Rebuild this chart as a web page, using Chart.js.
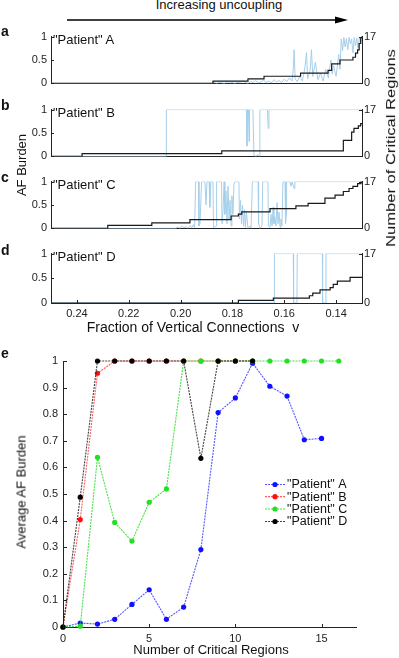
<!doctype html>
<html lang="en">
<head>
<meta charset="utf-8">
<script src="https://cdn.jsdelivr.net/npm/chart.js@4/dist/chart.umd.min.js"></script>
<style>
  html, body { margin: 0; padding: 0; background: #fff; }
  body { width: 399px; height: 658px; position: relative; overflow: hidden;
         font-family: "Liberation Sans", Arial, sans-serif; color: #111; }
  canvas { position: absolute; left: 0; }
  .t { position: absolute; white-space: nowrap; transform: translate(-50%, -50%); line-height: 1.15; z-index: 5; }
  .l { position: absolute; white-space: nowrap; transform: translateY(-50%); line-height: 1.15; z-index: 5; }
  .lab { font-weight: bold; font-size: 14px; }
</style>
</head>
<body>
<svg style="position:absolute;left:0;top:0" width="399" height="30">
  <line x1="67" y1="20" x2="337" y2="20" stroke="#000" stroke-width="1.3"/>
  <polygon points="335,16.5 348,20 335,23.5" fill="#000"/>
</svg>
<div class="t" style="left:219px;top:4.5px;font-size:13px">Increasing uncoupling</div>

<canvas id="ca" width="399" height="68" style="top:26px"></canvas>
<canvas id="cb" width="399" height="68" style="top:99px"></canvas>
<canvas id="cc" width="399" height="68" style="top:171px"></canvas>
<canvas id="cd" width="399" height="92" style="top:243px"></canvas>
<canvas id="ce" width="399" height="313" style="top:345px"></canvas>

<div class="l lab" style="left:1px;top:31px">a</div>
<div class="l lab" style="left:1px;top:105px">b</div>
<div class="l lab" style="left:1px;top:177px">c</div>
<div class="l lab" style="left:1px;top:250px">d</div>
<div class="l lab" style="left:1px;top:353px">e</div>

<div class="l" style="left:53px;top:39.5px;font-size:13px">"Patient" A</div>
<div class="l" style="left:53px;top:112.5px;font-size:13px">"Patient" B</div>
<div class="l" style="left:53px;top:184.5px;font-size:13px">"Patient" C</div>
<div class="l" style="left:53px;top:256.5px;font-size:13px">"Patient" D</div>

<div class="t" style="left:22px;top:165px;font-size:13px;transform:translate(-50%,-50%) rotate(-90deg)">AF Burden</div>
<div class="t" style="left:392px;top:148px;font-size:12px;transform:translate(-50%,-50%) rotate(-90deg) scaleX(1.38)">Number of Critical Regions</div>
<div class="t" style="left:193px;top:326.5px;font-size:14px">Fraction of Vertical Connections&nbsp;&nbsp;v</div>
<div class="t" style="left:22px;top:492px;font-size:13px;transform:translate(-50%,-50%) rotate(-90deg)">Average AF Burden</div>
<div class="t" style="left:211px;top:649.5px;font-size:13px">Number of Critical Regions</div>

<script>
// ---- panels a-d: AF burden (left axis) and critical regions (right axis) vs fraction v ----
const vBlueA = [0.25, 0.188, 0.187, 0.186, 0.185, 0.184, 0.183, 0.182, 0.181, 0.180, 0.179, 0.178, 0.177, 0.176, 0.175, 0.174, 0.173, 0.172, 0.171, 0.170, 0.169, 0.168, 0.167, 0.166, 0.165, 0.164, 0.163, 0.162, 0.161, 0.160, 0.159, 0.158, 0.157, 0.1565, 0.1562, 0.1558, 0.155, 0.154, 0.153, 0.152, 0.1514, 0.151, 0.150, 0.1495, 0.149, 0.148, 0.147, 0.146, 0.145, 0.144, 0.143, 0.142, 0.1415, 0.141, 0.140, 0.139, 0.1385, 0.138, 0.1375, 0.137, 0.1365, 0.136, 0.1355, 0.135, 0.1345, 0.134, 0.1335, 0.133, 0.1325, 0.132, 0.1315, 0.131, 0.1305, 0.130];
const burdenA = [0, 0, 0.02, 0.0, 0.03, 0.01, 0.0, 0.04, 0.01, 0.02, 0.0, 0.03, 0.01, 0.05, 0.02, 0.0, 0.04, 0.02, 0.06, 0.01, 0.03, 0.07, 0.02, 0.05, 0.01, 0.08, 0.03, 0.06, 0.02, 0.09, 0.04, 0.12, 0.05, 0.3, 0.72, 0.1, 0.04, 0.15, 0.05, 0.35, 0.66, 0.1, 0.28, 0.72, 0.15, 0.45, 0.08, 0.22, 0.05, 0.3, 0.12, 0.5, 0.2, 0.38, 0.15, 0.62, 0.3, 0.95, 0.7, 0.98, 0.78, 0.96, 0.72, 0.98, 0.85, 0.95, 0.65, 0.98, 0.8, 0.97, 0.75, 0.98, 0.88, 0.95];
const vStepA = [0.25, 0.1875, 0.1740, 0.1678, 0.1537, 0.1431, 0.1417, 0.1385, 0.1335, 0.1325, 0.1317, 0.1311, 0.1305, 0.1301, 0.13];
const regionsA = [0, 0.8, 1.65, 2.6, 3.7, 4.7, 7.1, 8.5, 9.5, 11, 12.2, 14.5, 16.5, 17, 17];

const vBlueB = [0.25, 0.2056, 0.2055, 0.1746, 0.1744, 0.1742, 0.1738, 0.1736, 0.1734, 0.1721, 0.1717, 0.1709, 0.1701, 0.1695, 0.1694, 0.1665, 0.1662, 0.1659, 0.13];
const burdenB = [0, 0, 1, 1, 0.22, 1, 1, 0.32, 1, 1, 0.02, 0, 0.04, 0, 1, 1, 0.6, 1, 1];
const vStepB = [0.25, 0.2380, 0.1841, 0.1372, 0.1340, 0.1331, 0.1314, 0.1305, 0.13];
const regionsB = [0, 1, 2, 5.8, 8.8, 10.2, 11.1, 11.9, 11.9];

const vBlueC = [0.25, 0.2018, 0.2010, 0.2002, 0.1995, 0.1987, 0.1979, 0.1971, 0.1964, 0.1956, 0.1950, 0.1946, 0.1942, 0.1931, 0.1929, 0.1925, 0.1919, 0.1906, 0.1902, 0.1898, 0.1890, 0.1887, 0.1883, 0.1875, 0.1873, 0.1863, 0.1861, 0.1842, 0.1840, 0.1836, 0.1832, 0.1829, 0.1825, 0.1821, 0.1817, 0.1813, 0.1809, 0.1805, 0.1802, 0.1798, 0.1794, 0.1790, 0.1775, 0.1773, 0.1769, 0.1765, 0.1761, 0.1757, 0.1753, 0.1750, 0.1746, 0.1740, 0.1732, 0.1728, 0.1723, 0.1701, 0.1699, 0.1694, 0.1686, 0.1683, 0.1663, 0.1661, 0.1655, 0.1651, 0.1647, 0.1643, 0.1640, 0.1636, 0.1632, 0.1628, 0.1624, 0.1620, 0.1616, 0.1613, 0.1609, 0.1605, 0.1597, 0.1595, 0.1592, 0.1591, 0.1578, 0.1574, 0.1570, 0.1562, 0.1559, 0.13];
const burdenC = [0, 0, 0.03, 0, 0.05, 0.01, 0.04, 0, 0.06, 0.02, 0.08, 0.02, 1, 1, 0.05, 0.1, 1, 1, 0.5, 1, 1, 0.45, 1, 1, 0.02, 0.05, 1, 1, 0.1, 0.4, 1, 0.3, 0.8, 0.1, 0.9, 0.2, 0.6, 0.05, 0.7, 0.3, 0.95, 1, 1, 0.2, 0.6, 0.1, 0.5, 0.05, 0.4, 0.02, 0.35, 0, 0.05, 0, 1, 1, 0.1, 0, 0.05, 1, 1, 0.05, 0.02, 0.3, 0.05, 0.45, 0.1, 0.25, 0.05, 0.55, 0.1, 0.35, 0.02, 0.2, 0.05, 1, 1, 0.1, 0.3, 1, 1, 0.9, 1, 0.85, 1, 1];
const vStepC = [0.25, 0.2281, 0.2111, 0.1964, 0.1805, 0.1777, 0.1764, 0.1655, 0.1555, 0.1508, 0.1443, 0.1404, 0.1372, 0.1350, 0.1335, 0.1317, 0.1304, 0.13];
const regionsC = [0, 1.1, 2, 3.2, 4.5, 5.2, 6, 7.2, 8.2, 9.1, 11, 12.1, 13.4, 14.5, 15.3, 16.3, 17, 17];

const vBlueD = [0.25, 0.1639, 0.1638, 0.1565, 0.1564, 0.1551, 0.1550, 0.1453, 0.1452, 0.1440, 0.1439, 0.13];
const burdenD = [0, 0, 1, 1, 0, 0, 1, 1, 0, 0, 1, 1];
const vStepD = [0.25, 0.1777, 0.1642, 0.1503, 0.1490, 0.1462, 0.1423, 0.1411, 0.1395, 0.1346, 0.13];
const regionsD = [0, 0.9, 1.7, 2.5, 3.4, 4.5, 5.3, 6.4, 7.5, 8.8, 8.8];

const burdenTicks = [0, 0.5, 1];
const regionTicks = [0, 17];
const fractionTicks = [0.24, 0.22, 0.20, 0.18, 0.16, 0.14];

// ---- panel e: average AF burden vs number of critical regions ----
const regionCounts = [0, 1, 2, 3, 4, 5, 6, 7, 8, 9, 10, 11, 12, 13, 14, 15, 16];
const avgA = [0, 0.015, 0.011, 0.029, 0.085, 0.14, 0.029, 0.075, 0.291, 0.806, 0.861, 0.992, 0.905, 0.868, 0.704, 0.709];
const avgB = [0, 0.404, 0.954, 1, 1, 1, 1, 1, 1, 1, 1, 1];
const avgC = [0, 0.003, 0.638, 0.393, 0.323, 0.469, 0.519, 1, 1, 1, 1, 1, 1, 1, 1, 1, 1];
const avgD = [0, 0.488, 1, 1, 1, 1, 1, 1, 0.634, 1, 1, 1];
const avgTicksY = [0, 0.1, 0.2, 0.3, 0.4, 0.5, 0.6, 0.7, 0.8, 0.9, 1];
const avgTicksX = [0, 5, 10, 15];
const seriesNames = ['"Patient" A', '"Patient" B', '"Patient" C', '"Patient" D'];

Chart.defaults.font.family = '"Liberation Sans", Arial, sans-serif';
Chart.defaults.font.size = 11;
Chart.defaults.color = '#222';
Chart.defaults.animation = false;

const AXIS = '#222';

function pts(xs, ys) {
  const n = Math.min(xs.length, ys.length);
  const out = [];
  for (let i = 0; i < n; i++) out.push({ x: xs[i], y: ys[i] });
  return out;
}

function fixTicks(list) {
  return scale => { scale.ticks = list.map(v => ({ value: v })); };
}

// short tick marks pointing into the plot
const inTicks = {
  id: 'inTicks',
  afterDatasetsDraw(chart, args, opts) {
    const ctx = chart.ctx;
    ctx.save();
    ctx.strokeStyle = AXIS;
    ctx.lineWidth = 1;
    Object.keys(opts).forEach(id => {
      const s = chart.scales[id];
      const len = opts[id];
      if (!s || typeof len !== 'number') return;
      s.ticks.forEach(t => {
        const p = Math.round(s.getPixelForValue(t.value)) + 0.5;
        ctx.beginPath();
        if (id === 'x') { ctx.moveTo(p, s.top); ctx.lineTo(p, s.top - len); }
        else if (s.position === 'left') { ctx.moveTo(s.right, p); ctx.lineTo(s.right + len, p); }
        else { ctx.moveTo(s.left, p); ctx.lineTo(s.left - len, p); }
        ctx.stroke();
      });
    });
    ctx.restore();
  }
};

function panel(id, blueX, blueY, stepX, stepY, xHeight, showX) {
  return new Chart(document.getElementById(id), {
    type: 'line',
    data: {
      datasets: [
        {
          data: pts(stepX, stepY), yAxisID: 'y2', stepped: 'before',
          borderColor: '#1a1a1a', borderWidth: 1.2, pointRadius: 0, order: 0,
        },
        {
          data: pts(blueX, blueY), yAxisID: 'y',
          borderColor: '#a6cfea', borderWidth: 1, pointRadius: 0, order: 1,
        },
      ],
    },
    options: {
      responsive: false,
      devicePixelRatio: 1,
      layout: { padding: { top: 9, left: 0, right: 0, bottom: 0 } },
      plugins: { legend: { display: false }, tooltip: { enabled: false },
        inTicks: showX ? { x: 3, y: 3, y2: 3 } : { y: 3, y2: 3 } },
      scales: {
        x: {
          type: 'linear', min: 0.13, max: 0.25, reverse: true,
          afterBuildTicks: fixTicks(fractionTicks),
          afterFit: s => { s.height = xHeight; },
          grid: { display: false, drawTicks: false },
          border: { display: true, color: AXIS, width: 1 },
          ticks: { display: showX, padding: 4, maxRotation: 0, callback: v => Number(v).toFixed(2) },
        },
        y: {
          position: 'left', min: 0, max: 1,
          afterBuildTicks: fixTicks(burdenTicks),
          afterFit: s => { s.width = 51; },
          grid: { display: false, drawTicks: false },
          border: { display: true, color: AXIS, width: 1 },
          ticks: { padding: 4, callback: v => String(v) },
        },
        y2: {
          position: 'right', min: 0, max: 17,
          afterBuildTicks: fixTicks(regionTicks),
          afterFit: s => { s.width = 37; },
          grid: { display: false, drawTicks: false },
          border: { display: true, color: AXIS, width: 1 },
          ticks: { padding: 2, callback: v => String(v) },
        },
      },
    },
    plugins: [inTicks],
  });
}

panel('ca', vBlueA, burdenA, vStepA, regionsA, 7, false);
panel('cb', vBlueB, burdenB, vStepB, regionsB, 8, false);
panel('cc', vBlueC, burdenC, vStepC, regionsC, 7, false);
panel('cd', vBlueD, burdenD, vStepD, regionsD, 32, true);

const colorsE = [
  { line: 'rgba(30,30,255,0.75)', dot: '#1010ff' },
  { line: 'rgba(255,40,40,0.75)', dot: '#ff1010' },
  { line: 'rgba(40,220,40,0.85)', dot: '#22e022' },
  { line: 'rgba(20,20,20,0.8)', dot: '#000000' },
];
const avgSeries = [avgA, avgB, avgC, avgD];

const legendE = {
  id: 'legendE',
  afterDraw(chart) {
    const ctx = chart.ctx;
    const rows = [139.5, 151.7, 164.0, 176.5];
    ctx.save();
    chart.data.datasets.forEach((ds, i) => {
      const y = rows[i];
      ctx.strokeStyle = ds.borderColor;
      ctx.lineWidth = 1.2;
      ctx.setLineDash([2, 1]);
      ctx.beginPath(); ctx.moveTo(265, y); ctx.lineTo(285, y); ctx.stroke();
      ctx.setLineDash([]);
      ctx.fillStyle = ds.pointBackgroundColor;
      ctx.beginPath(); ctx.arc(275, y, 2.6, 0, Math.PI * 2); ctx.fill();
      ctx.fillStyle = '#111';
      ctx.font = '12.5px "Liberation Sans", Arial, sans-serif';
      ctx.textBaseline = 'middle';
      ctx.fillText(ds.label, 287, y + 0.5);
    });
    ctx.restore();
  }
};

new Chart(document.getElementById('ce'), {
  type: 'line',
  data: {
    datasets: avgSeries.map((vals, i) => ({
      label: seriesNames[i],
      data: pts(regionCounts, vals),
      borderColor: colorsE[i].line,
      borderWidth: 1.1,
      borderDash: [2, 1],
      pointRadius: 2.6,
      pointBorderWidth: 0,
      pointBackgroundColor: colorsE[i].dot,
      clip: false,
      order: 3 - i,
    })),
  },
  options: {
    responsive: false,
    devicePixelRatio: 1,
    layout: { padding: { top: 16, left: 0, right: 43, bottom: 0 } },
    plugins: { legend: { display: false }, tooltip: { enabled: false }, inTicks: { x: 3, y: 4 } },
    scales: {
      x: {
        type: 'linear', min: 0, max: 17,
        afterBuildTicks: fixTicks(avgTicksX),
        afterFit: s => { s.height = 31; },
        grid: { display: false, drawTicks: false },
        border: { display: true, color: AXIS, width: 1 },
        ticks: { padding: 5, maxRotation: 0, callback: v => String(v) },
      },
      y: {
        position: 'left', min: 0, max: 1,
        afterBuildTicks: fixTicks(avgTicksY),
        afterFit: s => { s.width = 63; },
        grid: { display: false, drawTicks: false },
        border: { display: true, color: AXIS, width: 1 },
        ticks: { padding: 5, callback: v => String(Math.round(v * 10) / 10) },
      },
    },
  },
  plugins: [inTicks, legendE],
});
</script>
</body>
</html>
